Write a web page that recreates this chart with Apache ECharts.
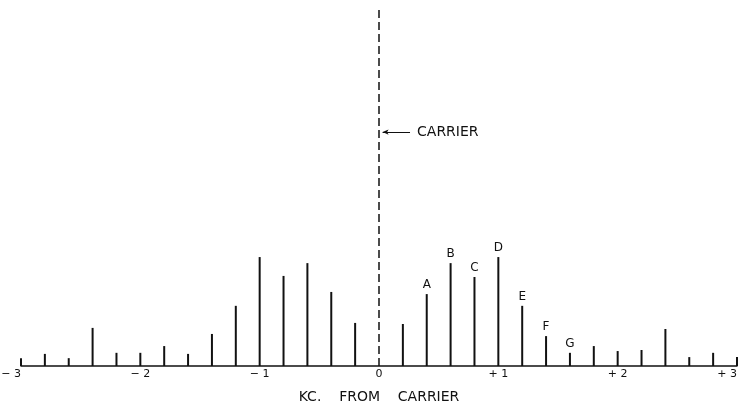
<!DOCTYPE html>
<html>
<head>
<meta charset="utf-8">
<script src="https://cdn.jsdelivr.net/npm/echarts@6/dist/echarts.min.js"></script>
<style>html,body{margin:0;padding:0;background:#fff}#c{width:740px;height:402px}</style>
</head>
<body>
<div id="c"></div>
<script>
// Frequency offsets (kc from carrier) of sideband lines
const offsets = [-3.0,-2.8,-2.6,-2.4,-2.2,-2.0,-1.8,-1.6,-1.4,-1.2,-1.0,-0.8,-0.6,-0.4,-0.2,
                 0.2,0.4,0.6,0.8,1.0,1.2,1.4,1.6,1.8,2.0,2.2,2.4,2.6,2.8,3.0];
// Relative amplitudes (carrier = 100)
const amplitudes = [2.2,3.4,2.2,10.7,3.7,3.7,5.6,3.4,9.0,16.9,30.6,25.3,28.9,20.8,12.1,
                    11.8,20.2,28.9,25.0,30.6,16.9,8.4,3.7,5.6,4.2,4.5,10.4,2.5,3.7,2.5];
// Letter labels on lines
const letterOffsets = [0.4,0.6,0.8,1.0,1.2,1.4,1.6];
const letters = ['A','B','C','D','E','F','G'];
const carrierLevel = 100;
const carrierLabelLevel = 65.7;
const tickLabels = {'-3':'\u2212 3','-2':'\u2212 2','-1':'\u2212 1','0':'0','1':'+ 1','2':'+ 2','3':'+ 3'};

const font = 'DejaVu Sans';
const data = offsets.map((x,i) => {
  const li = letterOffsets.indexOf(x);
  const item = {value:[x, amplitudes[i]]};
  if (li >= 0) {
    item.label = {show:true, position:'top', distance:3, formatter:letters[li],
      color:'#111', fontSize:12, fontFamily:font};
  }
  return item;
});

const chart = echarts.init(document.getElementById('c'), null, {renderer:'canvas'});
chart.setOption({
  animation:false,
  backgroundColor:'#fff',
  grid:{left:21, right:3, top:10, bottom:36, outerBoundsMode:'none', containLabel:false},
  xAxis:{
    type:'value', min:-3, max:3, interval:1,
    axisLine:{show:true, onZero:false, lineStyle:{color:'#111', width:1.5}},
    axisTick:{show:false},
    splitLine:{show:false},
    axisLabel:{color:'#111', fontSize:11, fontFamily:font, margin:3,
      alignMinLabel:'right', alignMaxLabel:'right',
      formatter:v => tickLabels[String(Math.round(v))] || ''},
    name:'KC.    FROM    CARRIER', nameLocation:'middle', nameGap:24,
    nameTextStyle:{color:'#111', fontSize:14, fontFamily:font}
  },
  yAxis:{type:'value', min:0, max:carrierLevel, show:false},
  series:[{
    type:'bar', data:data, barWidth:2,
    itemStyle:{color:'#111'},
    markLine:{
      silent:true, symbol:'none', animation:false,
      data:[
        [{coord:[0,0], lineStyle:{type:[8,4], color:'#111', width:1.5}}, {coord:[0,carrierLevel]}],
        [{coord:[0.03,carrierLabelLevel], symbol:'arrow', symbolSize:[4,6], lineStyle:{type:'solid', color:'#111', width:1}},
         {coord:[0.26,carrierLabelLevel], symbol:'none',
          label:{show:true, position:'end', formatter:'CARRIER', color:'#111', fontSize:14, fontFamily:font, distance:7}}]
      ],
      label:{show:false}
    }
  }]
});
</script>
</body>
</html>
